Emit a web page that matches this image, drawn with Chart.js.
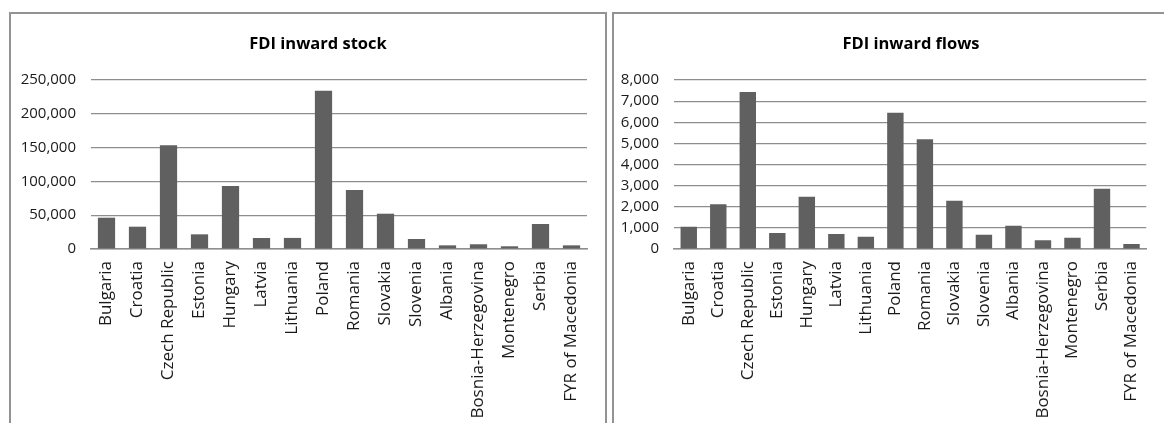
<!DOCTYPE html>
<html>
<head>
<meta charset="utf-8">
<script src="https://cdn.jsdelivr.net/npm/chart.js@4/dist/chart.umd.min.js"></script>
<style>
  html, body { margin: 0; padding: 0; background: #fff; overflow: hidden; }
  body { width: 1164px; height: 423px; position: relative; font-family: 'Open Sans', 'Liberation Sans', sans-serif; }
  .frame { position: absolute; border: 2px solid #939393; box-sizing: border-box; background: #fff; }
  #frameStock { left: 9px; top: 12px; width: 598px; height: 430px; }
  #frameFlows { left: 612px; top: 12px; width: 570px; height: 430px; }
  .frame canvas { position: absolute; left: 0; top: 0; }
  .title { position: absolute; width: 300px; text-align: center; font-weight: bold; font-size: 16.5px;
           line-height: 20px; color: #000; white-space: nowrap; }
  #titleStock { left: 168px; top: 33px; }
  #titleFlows { left: 761px; top: 33px; }
</style>
</head>
<body>
<div class="frame" id="frameStock"><canvas id="stock" width="594" height="409"></canvas></div>
<div class="frame" id="frameFlows"><canvas id="flows" width="550" height="409"></canvas></div>
<div class="title" id="titleStock">FDI inward stock</div>
<div class="title" id="titleFlows">FDI inward flows</div>
<script>
// Countries shown on both charts
const countries = [
  'Bulgaria', 'Croatia', 'Czech Republic', 'Estonia', 'Hungary', 'Latvia',
  'Lithuania', 'Poland', 'Romania', 'Slovakia', 'Slovenia', 'Albania',
  'Bosnia-Herzegovina', 'Montenegro', 'Serbia', 'FYR of Macedonia'
];

// FDI inward stock (US$ million)
const inwardStock = [
  46300, 33000, 153400, 21700, 93200, 16300,
  16400, 234200, 87300, 52200, 14800, 5400,
  7000, 4000, 37000, 5400
];

// FDI inward flows (US$ million)
const inwardFlows = [
  1057, 2115, 7430, 757, 2475, 710,
  582, 6450, 5190, 2285, 677, 1103,
  410, 535, 2855, 237
];

// Value axis ranges
const stockAxis = { max: 250000, step: 50000 };
const flowsAxis = { max: 8000, step: 1000 };

const FONT = "'Open Sans', 'Liberation Sans', sans-serif";
const BAR = '#606060';
const GRID = '#8e8e8e';
const TEXT = '#1a1a1a';

function makeChart(id, values, axis, yWidth, padRight) {
  return new Chart(document.getElementById(id), {
    type: 'bar',
    data: {
      labels: countries,
      datasets: [{
        data: values,
        backgroundColor: BAR,
        borderWidth: 0,
        barPercentage: 0.556,
        categoryPercentage: 1.0
      }]
    },
    options: {
      responsive: false,
      animation: false,
      devicePixelRatio: 1,
      layout: { padding: { left: 0, right: padRight, top: 66, bottom: 0 } },
      plugins: {
        legend: { display: false },
        tooltip: { enabled: false },
        title: { display: false }
      },
      scales: {
        x: {
          grid: { display: false, drawTicks: false },
          border: { display: true, color: GRID, width: 1.5 },
          ticks: {
            color: TEXT,
            font: { family: FONT, size: 17 },
            minRotation: 90,
            maxRotation: 90,
            autoSkip: false,
            padding: 12
          },
          afterFit(scale) { scale.height = 174; }
        },
        y: {
          min: 0,
          max: axis.max,
          grid: { color: GRID, lineWidth: 1.2, drawTicks: false },
          border: { display: false },
          ticks: {
            stepSize: axis.step,
            color: TEXT,
            font: { family: FONT, size: 15 },
            padding: 15,
            callback: v => v.toLocaleString('en-US')
          },
          afterFit(scale) { scale.width = yWidth; }
        }
      }
    }
  });
}

makeChart('stock', inwardStock, stockAxis, 80, 18);
makeChart('flows', inwardFlows, flowsAxis, 60, 3);
</script>
</body>
</html>
